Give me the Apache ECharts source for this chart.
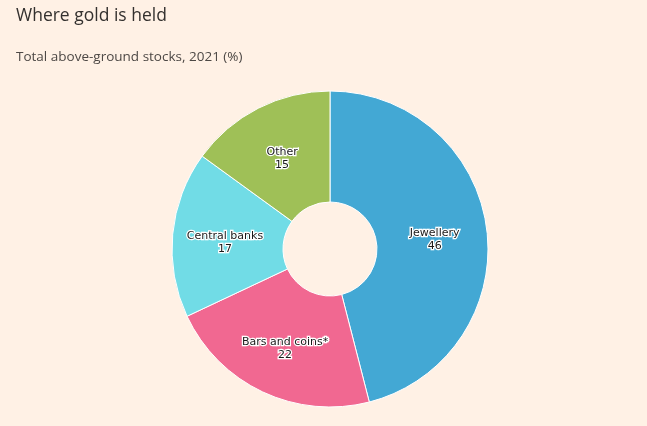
<!DOCTYPE html>
<html><head><meta charset="utf-8">
<script src="https://cdn.jsdelivr.net/npm/echarts@6/dist/echarts.min.js"></script>
<style>html,body{margin:0;padding:0;background:#fff1e5;}#c{width:647px;height:426px;}</style>
</head><body><div id="c"></div>
<script>
const categories = ['Jewellery', 'Bars and coins*', 'Central banks', 'Other'];
const values = [46, 22, 17, 15];
const colors = ['#43a8d4', '#f16891', '#71dce6', '#9fc057'];

const chart = echarts.init(document.getElementById('c'), null, {renderer: 'canvas'});
chart.setOption({
  backgroundColor: '#fff1e5',
  animation: false,
  title: [
    {text: 'Where gold is held', left: 16, top: 7, padding: 0,
     textStyle: {fontFamily: 'Open Sans', fontSize: 17.5, fontWeight: 'normal', color: '#33302e'}},
    {text: 'Total above-ground stocks, 2021 (%)', left: 16, top: 50, padding: 0,
     textStyle: {fontFamily: 'Open Sans', fontSize: 13.5, fontWeight: 'normal', color: '#4d4845'}}
  ],
  series: [{
    type: 'pie',
    center: [330, 249],
    radius: [47, 158],
    startAngle: 90,
    clockwise: true,
    color: colors,
    itemStyle: {borderColor: '#ffffff', borderWidth: 1},
    label: {
      position: 'inside',
      formatter: p => p.name + '\n' + p.value,
      fontFamily: 'DejaVu Sans',
      fontSize: 11,
      lineHeight: 13,
      offset: [0, 4],
      color: '#1a1a1a',
      textBorderColor: '#ffffff',
      textBorderWidth: 2.5
    },
    labelLine: {show: false},
    emphasis: {disabled: true},
    data: categories.map((c, i) => ({name: c, value: values[i]}))
  }]
});
</script></body></html>
